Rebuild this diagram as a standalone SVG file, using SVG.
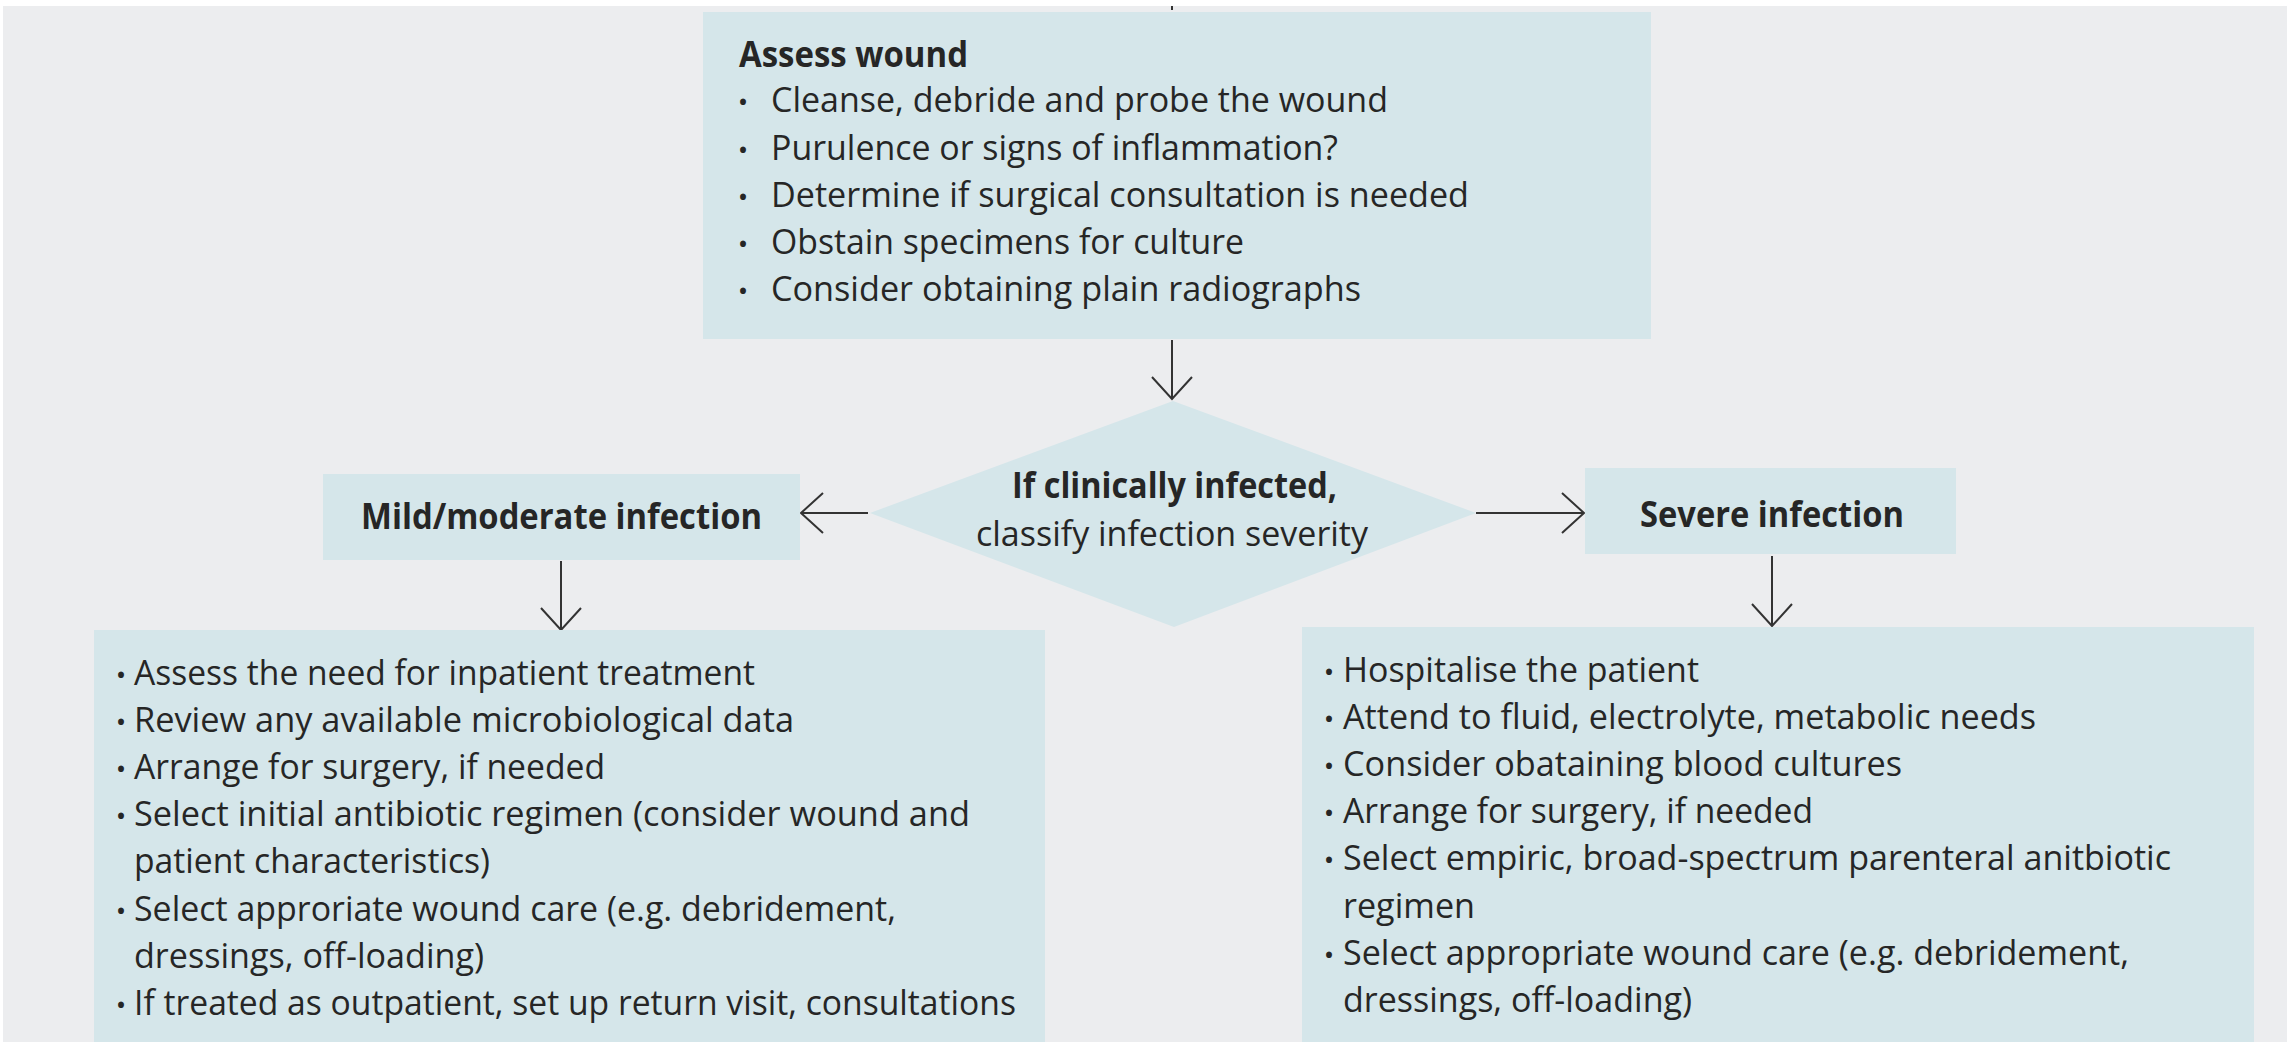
<svg xmlns="http://www.w3.org/2000/svg" width="2287" height="1042" viewBox="0 0 2287 1042">
<defs>
<style>
.bg{fill:#ecedef}
.box{fill:#d5e6ea}
text{font-family:"Open Sans","Noto Sans","Liberation Sans",sans-serif;fill:#262626}
.t{font-size:34px}
.h{font-size:35px;font-weight:700}
.b{font-size:28px;text-anchor:middle}
.c{fill:none;stroke:#333;stroke-width:2}
</style>
<marker id="arr" viewBox="-25 -23 28 46" refX="0" refY="0" markerWidth="28" markerHeight="46" markerUnits="userSpaceOnUse" orient="auto">
<path d="M-22,-20 L0,0 L-22,20" fill="none" stroke="#333" stroke-width="2"/>
</marker>
</defs>
<rect x="0" y="0" width="2287" height="1042" fill="#ffffff"/>
<rect class="bg" x="3" y="6" width="2284" height="1036"/>

<g id="connectors">
<line class="c" x1="1172" y1="6" x2="1172" y2="10" stroke-width="2.5"/>
<line class="c" x1="1172" y1="340" x2="1172" y2="399" marker-end="url(#arr)"/>
<line class="c" x1="868" y1="513" x2="801" y2="513" marker-end="url(#arr)"/>
<line class="c" x1="1476" y1="513" x2="1584" y2="513" marker-end="url(#arr)"/>
<line class="c" x1="561" y1="561" x2="561" y2="630" marker-end="url(#arr)"/>
<line class="c" x1="1772" y1="556" x2="1772" y2="626" marker-end="url(#arr)"/>
</g>

<g id="assess">
<rect class="box" x="703" y="12" width="948" height="327"/>
<text class="h" x="739" y="67" textLength="229" lengthAdjust="spacingAndGlyphs">Assess wound</text>
<text class="b" x="743" y="112">•</text>
<text class="t" x="771" y="112" textLength="617" lengthAdjust="spacingAndGlyphs">Cleanse, debride and probe the wound</text>
<text class="b" x="743" y="160">•</text>
<text class="t" x="771" y="160" textLength="567" lengthAdjust="spacingAndGlyphs">Purulence or signs of inflammation?</text>
<text class="b" x="743" y="207">•</text>
<text class="t" x="771" y="207" textLength="698" lengthAdjust="spacingAndGlyphs">Determine if surgical consultation is needed</text>
<text class="b" x="743" y="254">•</text>
<text class="t" x="771" y="254" textLength="473" lengthAdjust="spacingAndGlyphs">Obstain specimens for culture</text>
<text class="b" x="743" y="301">•</text>
<text class="t" x="771" y="301" textLength="590" lengthAdjust="spacingAndGlyphs">Consider obtaining plain radiographs</text>
</g>

<g id="classify">
<polygon class="box" points="1173,401 1476,513 1174,627 870,513"/>
<text class="h" x="1012" y="498" textLength="325" lengthAdjust="spacingAndGlyphs">If clinically infected,</text>
<text class="t" x="976" y="546" textLength="392" lengthAdjust="spacingAndGlyphs">classify infection severity</text>
</g>

<g id="mild">
<rect class="box" x="323" y="474" width="477" height="86"/>
<text class="h" x="361" y="529" textLength="401" lengthAdjust="spacingAndGlyphs">Mild/moderate infection</text>
</g>

<g id="severe">
<rect class="box" x="1585" y="468" width="371" height="86"/>
<text class="h" x="1640" y="527" textLength="264" lengthAdjust="spacingAndGlyphs">Severe infection</text>
</g>

<g id="mild-actions">
<rect class="box" x="94" y="630" width="951" height="412"/>
<text class="b" x="121" y="685">•</text>
<text class="t" x="134" y="685" textLength="621" lengthAdjust="spacingAndGlyphs">Assess the need for inpatient treatment</text>
<text class="b" x="121" y="732">•</text>
<text class="t" x="134" y="732" textLength="660" lengthAdjust="spacingAndGlyphs">Review any available microbiological data</text>
<text class="b" x="121" y="779">•</text>
<text class="t" x="134" y="779" textLength="471" lengthAdjust="spacingAndGlyphs">Arrange for surgery, if needed</text>
<text class="b" x="121" y="826">•</text>
<text class="t" x="134" y="826" textLength="836" lengthAdjust="spacingAndGlyphs">Select initial antibiotic regimen (consider wound and</text>
<text class="t" x="134" y="873" textLength="356" lengthAdjust="spacingAndGlyphs">patient characteristics)</text>
<text class="b" x="121" y="921">•</text>
<text class="t" x="134" y="921" textLength="762" lengthAdjust="spacingAndGlyphs">Select approriate wound care (e.g. debridement,</text>
<text class="t" x="134" y="968" textLength="350" lengthAdjust="spacingAndGlyphs">dressings, off-loading)</text>
<text class="b" x="121" y="1015">•</text>
<text class="t" x="134" y="1015" textLength="882" lengthAdjust="spacingAndGlyphs">If treated as outpatient, set up return visit, consultations</text>
</g>

<g id="severe-actions">
<rect class="box" x="1302" y="627" width="952" height="415"/>
<text class="b" x="1329" y="682">•</text>
<text class="t" x="1343" y="682" textLength="356" lengthAdjust="spacingAndGlyphs">Hospitalise the patient</text>
<text class="b" x="1329" y="729">•</text>
<text class="t" x="1343" y="729" textLength="693" lengthAdjust="spacingAndGlyphs">Attend to fluid, electrolyte, metabolic needs</text>
<text class="b" x="1329" y="776">•</text>
<text class="t" x="1343" y="776" textLength="559" lengthAdjust="spacingAndGlyphs">Consider obataining blood cultures</text>
<text class="b" x="1329" y="823">•</text>
<text class="t" x="1343" y="823" textLength="470" lengthAdjust="spacingAndGlyphs">Arrange for surgery, if needed</text>
<text class="b" x="1329" y="870">•</text>
<text class="t" x="1343" y="870" textLength="828" lengthAdjust="spacingAndGlyphs">Select empiric, broad-spectrum parenteral anitbiotic</text>
<text class="t" x="1343" y="918" textLength="132" lengthAdjust="spacingAndGlyphs">regimen</text>
<text class="b" x="1329" y="965">•</text>
<text class="t" x="1343" y="965" textLength="786" lengthAdjust="spacingAndGlyphs">Select appropriate wound care (e.g. debridement,</text>
<text class="t" x="1343" y="1012" textLength="349" lengthAdjust="spacingAndGlyphs">dressings, off-loading)</text>
</g>
</svg>
